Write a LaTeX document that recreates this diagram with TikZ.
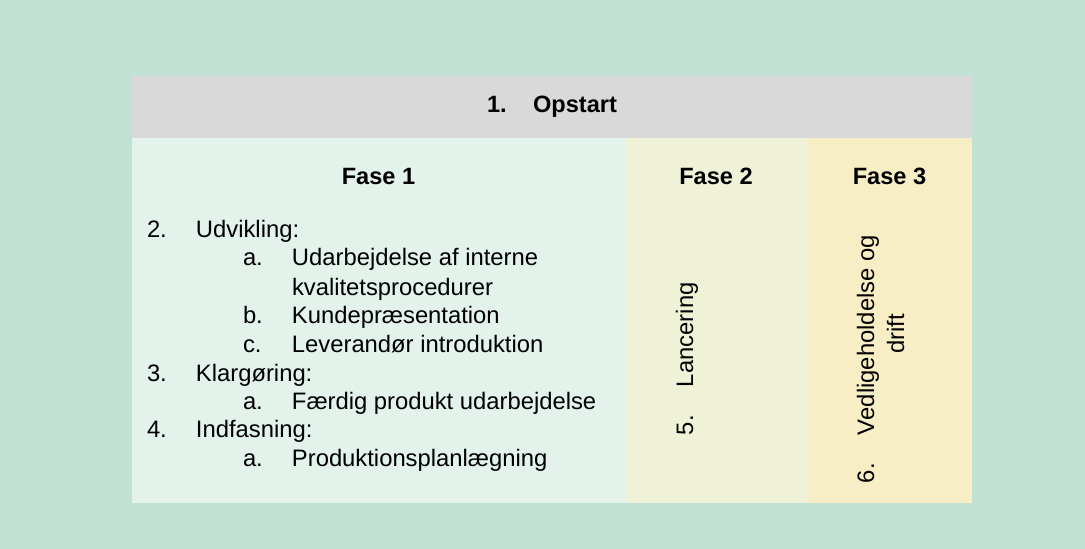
\documentclass[tikz,border=0pt]{standalone}
\usepackage{fontspec}
\setmainfont{Liberation Sans}
\definecolor{bgout}{HTML}{C0E1D3}
\definecolor{hdr}{HTML}{D9D9D9}
\definecolor{colA}{HTML}{E3F2EB}
\definecolor{colB}{HTML}{EFF2D7}
\definecolor{colC}{HTML}{F8EEC6}
\tikzset{
  txt/.style={inner sep=0pt, outer sep=0pt, anchor=base west, font=\fontsize{23.8}{28.6}\selectfont},
  btxt/.style={txt, font=\fontsize{23.6}{28.6}\selectfont\bfseries}
}
\newcommand{\numbox}[1]{\makebox[49pt][l]{#1}}
\begin{document}
\begin{tikzpicture}[x=1pt,y=-1pt]
\useasboundingbox (0,0) rectangle (1085,549);
\fill[bgout] (0,0) rectangle (1085,549);
% panels
\fill[hdr] (132,76) rectangle (972,138);
\fill[colA] (132,138) rectangle (625,503);
\fill[colB] (625,138) rectangle (807,503);
\fill[colC] (807,138) rectangle (972,503);
% header
\node[btxt] (opstart) at (487,112) {\makebox[46pt][l]{1.}Opstart};
\node[btxt, anchor=base] (f1) at (378.5,184) {Fase 1};
\node[btxt, anchor=base] (f2) at (716,184) {Fase 2};
\node[btxt, anchor=base] (f3) at (889.5,184) {Fase 3};
% list
\node[txt] (l2) at (147,237) {\numbox{2.}Udvikling:};
\node[txt] (l2a) at (243,265.5) {\numbox{a.}Udarbejdelse af interne};
\node[txt] (l2a2) at (292,295) {kvalitetsprocedurer};
\node[txt] (l2b) at (243,323.5) {\numbox{b.}Kundepræsentation};
\node[txt] (l2c) at (243,352.5) {\numbox{c.}Leverandør introduktion};
\node[txt] (l3) at (147,381) {\numbox{3.}Klargøring:};
\node[txt] (l3a) at (243,409) {\numbox{a.}Færdig produkt udarbejdelse};
\node[txt] (l4) at (147,437.5) {\numbox{4.}Indfasning:};
\node[txt] (l4a) at (243,466) {\numbox{a.}Produktionsplanlægning};
% rotated
\node[txt, rotate=90] (l5) at (693,435) {\makebox[48pt][l]{5.}Lancering};
\node[txt, rotate=90] (l6) at (874,483) {\makebox[48pt][l]{6.}Vedligeholdelse og};
\node[txt, rotate=90, anchor=base] (l6b) at (904,334) {drift};
\end{tikzpicture}
\end{document}
